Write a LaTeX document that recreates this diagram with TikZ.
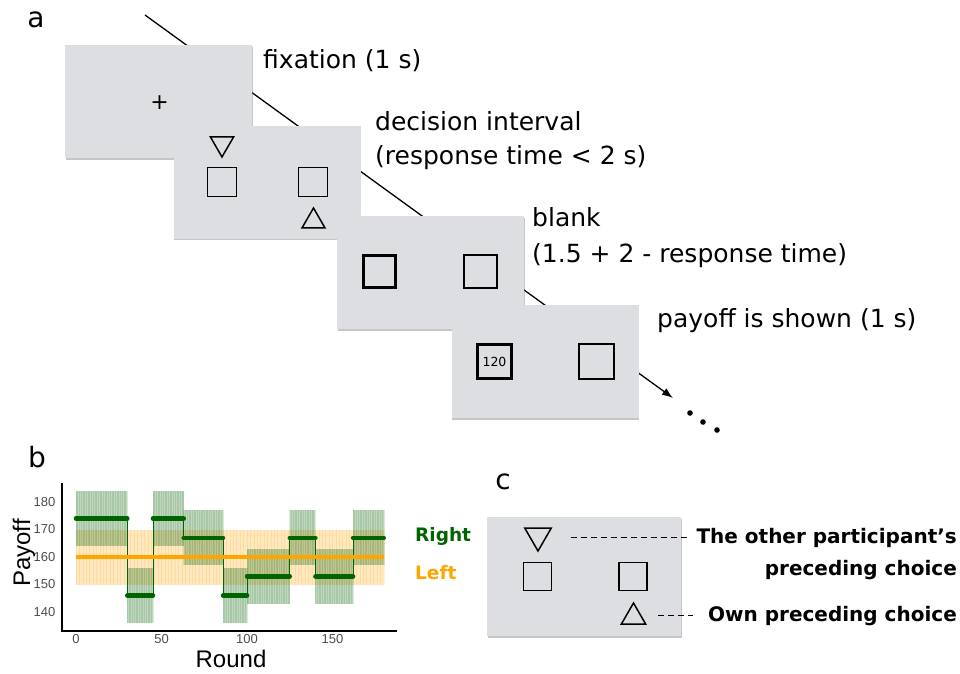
\documentclass[tikz,border=0pt]{standalone}
\usepackage{fontspec}
\setmainfont{DejaVu Sans}
\newfontfamily\plotfont{Liberation Sans}
\usepackage{tikz}
\usetikzlibrary{shapes.geometric, shadows, arrows.meta}
\definecolor{scrgray}{RGB}{221,222,225}
\definecolor{rightgreen}{RGB}{0,100,0}
\definecolor{bandgreen}{RGB}{60,130,60}
\definecolor{leftorange}{RGB}{255,165,0}
\definecolor{ticklab}{RGB}{77,77,77}

\tikzset{
  screen/.style={fill=scrgray, minimum width=187pt, minimum height=113pt, inner sep=0pt,
    drop shadow={shadow xshift=0.6pt, shadow yshift=-1.8pt, opacity=0.45}},
  optbox/.style={draw, line width=1.6pt, minimum size=#1, inner sep=0pt},
  optbox/.default=29pt,
  chosen/.style={line width=3.2pt},
  tridown/.style={regular polygon, regular polygon sides=3, shape border rotate=180, draw,
    line width=1.5pt, minimum size=#1, inner sep=0pt},
  triup/.style={regular polygon, regular polygon sides=3, draw, line width=1.5pt,
    minimum size=#1, inner sep=0pt},
  phase/.style={anchor=base west, inner sep=0pt, font=\fontsize{25}{30}\selectfont},
  panel/.style={inner sep=0pt, font=\fontsize{28}{32}\selectfont},
  legendtxt/.style={anchor=west, inner sep=0pt, font=\fontsize{18.5}{22}\selectfont\bfseries},
  calltxt/.style={anchor=base east, inner sep=0pt, font=\fontsize{20}{24}\selectfont\bfseries},
  callout/.style={dash pattern=on 6pt off 4pt, line width=1.5pt},
  ticktxt/.style={text=ticklab, inner sep=0pt, font=\plotfont\fontsize{13}{15}\selectfont},
  axtitle/.style={inner sep=0pt, font=\plotfont\fontsize{24}{28}\selectfont},
}

\begin{document}
\begin{tikzpicture}[x=1pt, y=-1pt]
    \useasboundingbox (0,0) rectangle (960,673);

    % a: one trial
    \node[panel] (lbla) at (36,20) {a};
    \coordinate (tl0) at (145,15);
    \coordinate (tl1) at (673,398);
    \draw[line width=1.3pt, -{Latex[length=11pt, width=8pt]}] (tl0) -- (tl1);

    \node[screen] (scr1) at (158.5,101.5) {};
    \node[inner sep=0pt, font=\fontsize{22}{24}\selectfont] (fixcross) at (159.5,102.5) {+};

    \node[screen] (scr2) at (267,182) {};
    \node[tridown=27pt] (dnother) at (222,143.5) {};
    \node[optbox] (s2left) at (222,182) {};
    \node[optbox] (s2right) at (313,182) {};
    \node[triup=26.6pt] (upown) at (313.5,221.3) {};

    \node[screen] (scr3) at (430.5,272.5) {};
    \node[optbox=32.5pt, chosen] (s3left) at (379.5,271.5) {};
    \node[optbox=33.5pt] (s3right) at (480.5,271.5) {};

    \node[screen] (scr4) at (545,361.5) {};
    \node[optbox=34pt, chosen, font=\fontsize{12.5}{14}\selectfont] (s4left) at (494.5,361.5) {120};
    \node[optbox=35.5pt] (s4right) at (596.5,361.5) {};

    \fill (690,413) circle (2.8pt) (703,422) circle (2.8pt) (717,430) circle (2.8pt);

    \node[phase] (tfix) at (263,68) {fixation (1 s)};
    \node[phase] (tdec) at (375,130) {decision interval};
    \node[phase] (tdec2) at (375,164) {(response time < 2 s)};
    \node[phase] (tblank) at (532,226) {blank};
    \node[phase] (tblank2) at (532,262) {(1.5 + 2 - response time)};
    \node[phase] (tpay) at (657,327) {payoff is shown (1 s)};

    % b: payoff schedule
    \node[panel] (lblb) at (37,457) {b};
    \begin{scope}[x=1.71pt, y=2.75pt, shift={(76pt,-997pt)}]
        \fill[leftorange, fill opacity=0.25] (0,150) rectangle (180,170);
        \foreach \r in {0,2,...,180}
            \draw[leftorange, opacity=0.18, line width=0.6pt] (\r,150) -- (\r,170);
        \foreach \a/\b/\v in {0/30/174, 30/45/146, 45/63/174, 63/86/167, 86/100/146,
                              100/125/153, 125/140/167, 140/162/153, 162/180/167} {
            \fill[bandgreen, fill opacity=0.33] (\a,\v-10) rectangle (\b,\v+10);
            \foreach \r in {\a,...,\b}
                \draw[bandgreen, opacity=0.18, line width=0.6pt] (\r,\v-10) -- (\r,\v+10);
        }
        \draw[rightgreen, line width=0.9pt] (0,174) -- (30,174) -- (30,146) -- (45,146)
            -- (45,174) -- (63,174) -- (63,167) -- (86,167) -- (86,146) -- (100,146)
            -- (100,153) -- (125,153) -- (125,167) -- (140,167) -- (140,153) -- (162,153)
            -- (162,167) -- (180,167);
        \foreach \a/\b/\v in {0/30/174, 30/45/146, 45/63/174, 63/86/167, 86/100/146,
                              100/125/153, 125/140/167, 140/162/153, 162/180/167}
            \draw[rightgreen, line width=4.5pt, line cap=round] (\a,\v) -- (\b,\v);
        \draw[leftorange, line width=4.5pt] (0,160) -- (180,160);

        \draw[line width=1.3pt] (-8.2,186.9) -- (-8.2,133.1) -- (188,133.1);
        \foreach \v in {140,150,...,180}
            \node[ticktxt, anchor=east] (yt\v) at (-12,\v) {\v};
        \foreach \r in {0,50,100,150}
            \node[ticktxt] (xt\r) at (\r,130.2) {\r};
    \end{scope}
    \node[axtitle, rotate=90] (ylab) at (24,553) {Payoff};
    \node[axtitle] (xlab) at (231,659) {Round};
    \node[legendtxt, text=rightgreen] (lgright) at (415,536) {Right};
    \node[legendtxt, text=leftorange] (lgleft) at (415,573) {Left};

    % c: what the markers mean
    \node[panel] (lblc) at (503,482) {c};
    \node[screen, minimum width=194pt, minimum height=119pt] (scrc) at (584,576.5) {};
    \node[tridown=30.6pt] (cother) at (538,535.7) {};
    \node[optbox=28pt] (cleft) at (537.5,576.5) {};
    \node[optbox=28pt] (cright) at (633,576.5) {};
    \node[triup=28pt] (cown) at (633.5,617) {};
    \node[calltxt] (tother) at (957,543) {The other participant’s};
    \node[calltxt] (tother2) at (957,575) {preceding choice};
    \node[calltxt] (town) at (957,621) {Own preceding choice};
    \draw[callout, shorten <=23pt, shorten >=9pt] (cother.east |- tother.west) -- (tother.west);
    \draw[callout, shorten <=16pt, shorten >=15pt] (cown.east |- town.west) -- (town.west);
\end{tikzpicture}
\end{document}
